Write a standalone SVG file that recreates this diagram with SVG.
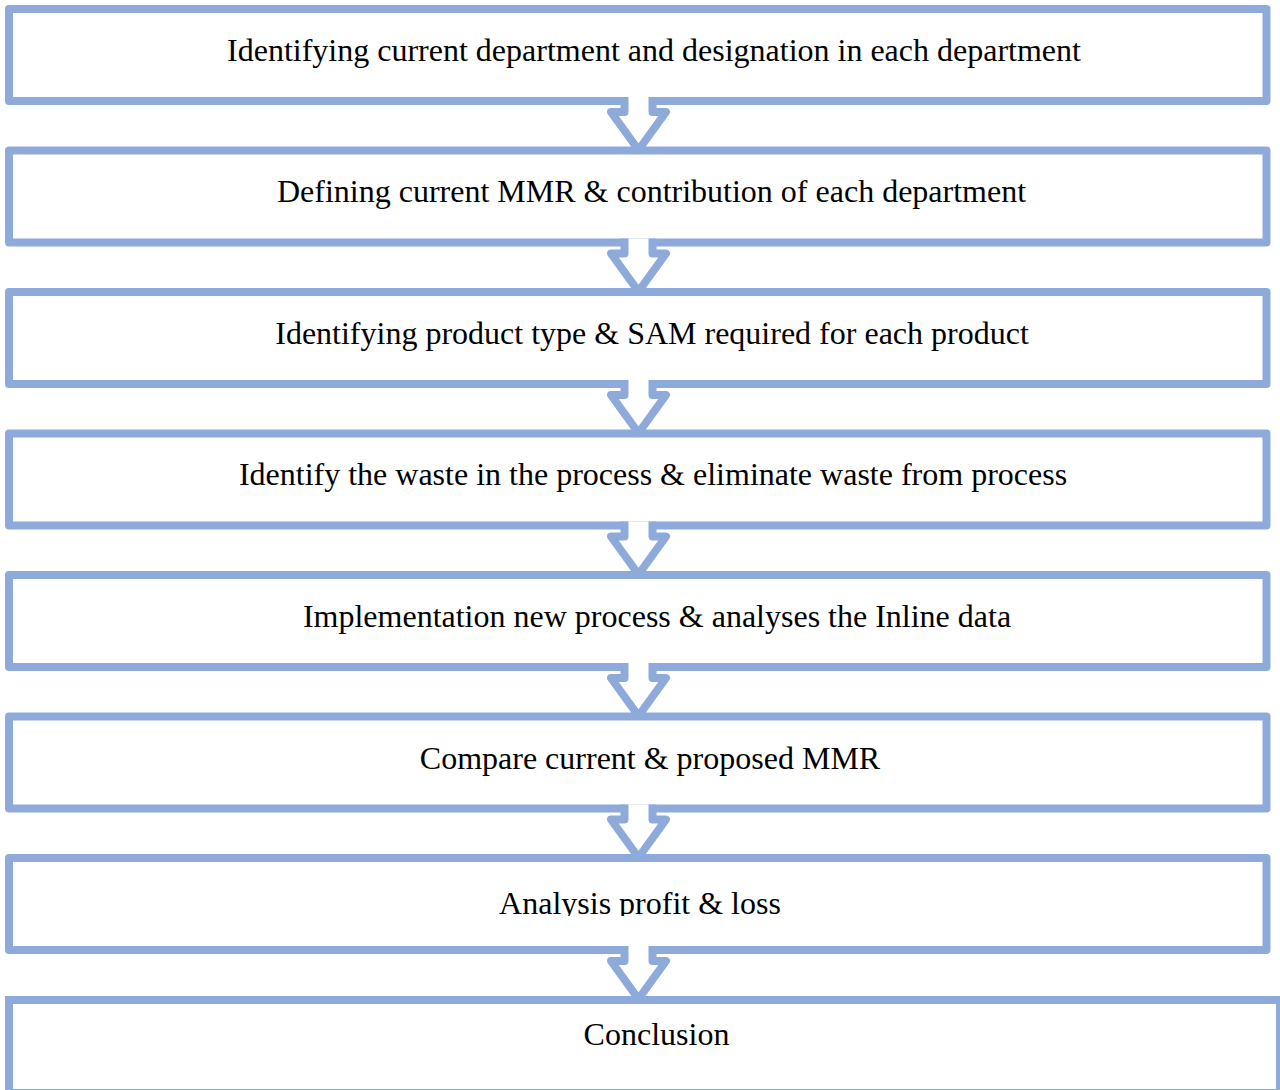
<svg xmlns="http://www.w3.org/2000/svg" width="1280" height="1090" viewBox="0 0 1280 1090">
<defs>
<style>
.box{fill:#ffffff;stroke:#8EAADB;stroke-width:8;stroke-linejoin:round}
.box8{fill:#ffffff;stroke:#8EAADB;stroke-width:8;stroke-linejoin:miter}
.arr{fill:#ffffff;stroke:#8EAADB;stroke-width:8;stroke-linejoin:round;stroke-linecap:butt}
.t{font-family:"Liberation Serif","Times New Roman",serif;font-size:32px;fill:#000000;text-anchor:middle}
</style>
<clipPath id="c7"><rect x="0" y="850" width="1280" height="66"/></clipPath>
</defs>
<rect width="1280" height="1090" fill="#ffffff"/>
<g id="n1"><rect class="box" x="9" y="9" width="1257.5" height="92"/><text class="t" x="654" y="60.5">Identifying current department and designation in each department</text></g>
<g id="n2"><rect class="box" x="9" y="150.5" width="1257.5" height="92"/><text class="t" x="651.5" y="202">Defining current MMR &amp; contribution of each department</text></g>
<g id="n3"><rect class="box" x="9" y="292" width="1257.5" height="92"/><text class="t" x="652" y="343.5">Identifying product type &amp; SAM required for each product</text></g>
<g id="n4"><rect class="box" x="9" y="433.5" width="1257.5" height="92"/><text class="t" x="653" y="485">Identify the waste in the process &amp; eliminate waste from process</text></g>
<g id="n5"><rect class="box" x="9" y="575" width="1257.5" height="92"/><text class="t" x="657" y="626.5">Implementation new process &amp; analyses the Inline data</text></g>
<g id="n6"><rect class="box" x="9" y="716.5" width="1257.5" height="92"/><text class="t" x="650" y="769">Compare current &amp; proposed MMR</text></g>
<g id="n7"><rect class="box" x="9" y="858" width="1257.5" height="92"/><text class="t" x="640" y="913.5" clip-path="url(#c7)">Analysis profit &amp; loss</text></g>
<g id="n8"><rect class="box8" x="9" y="1000" width="1271" height="93"/><text class="t" x="656.5" y="1044.5">Conclusion</text></g>
<g id="connectors">
<path class="arr" d="M624.5,97 V112 H611 L638.5,150 L666,112 H652.5 V97"/>
<path class="arr" d="M624.5,238.5 V253.5 H611 L638.5,291.5 L666,253.5 H652.5 V238.5"/>
<path class="arr" d="M624.5,380 V395 H611 L638.5,433 L666,395 H652.5 V380"/>
<path class="arr" d="M624.5,521.5 V536.5 H611 L638.5,574.5 L666,536.5 H652.5 V521.5"/>
<path class="arr" d="M624.5,663 V678 H611 L638.5,716 L666,678 H652.5 V663"/>
<path class="arr" d="M624.5,804.5 V819.5 H611 L638.5,857.5 L666,819.5 H652.5 V804.5"/>
<path class="arr" d="M624.5,946 V961 H611 L638.5,999 L666,961 H652.5 V946"/>
</g>
</svg>
